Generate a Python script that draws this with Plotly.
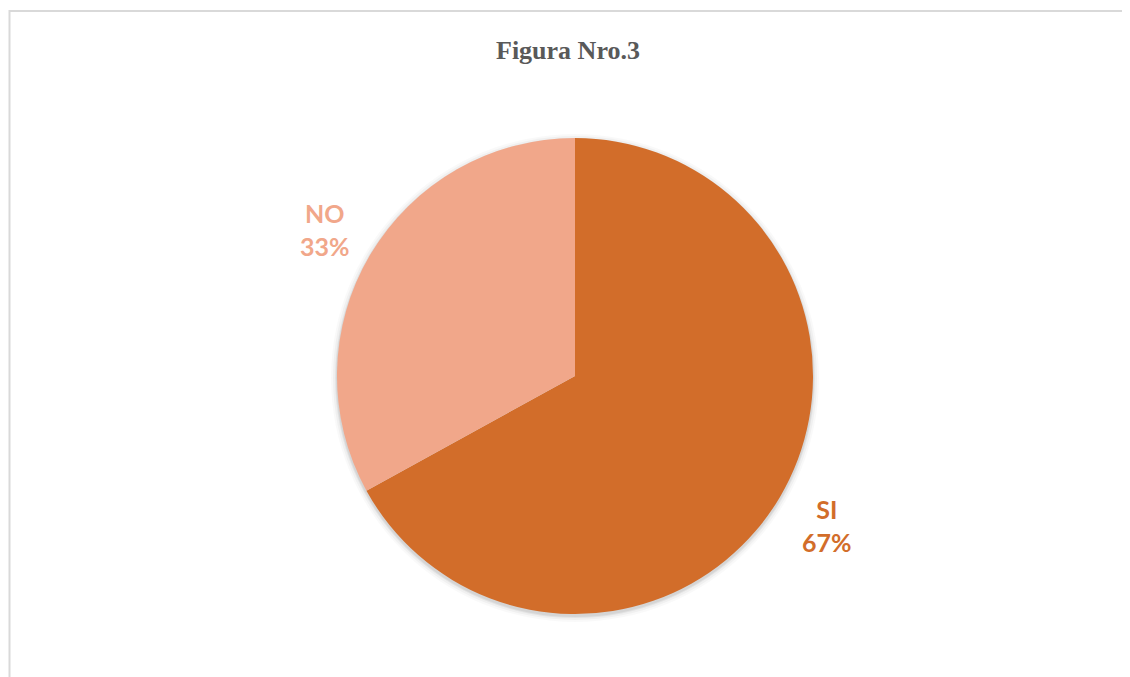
import plotly.graph_objects as go

# Data
categories = ["SI", "NO"]
values = [67, 33]
colors = ["#D26D2A", "#F1A78A"]
title_text = "Figura Nro.3"

W, H = 1130, 677
OFF = 8  # page body margin in the browser
ML, MR, MT, MB = 12, 8, 130, 71
PW, PH = W - ML - MR, H - MT - MB


def px_x(sx):
    return (sx - OFF - ML) / PW


def px_y(sy):
    return (H - MB - (sy - OFF)) / PH


total = sum(values)
labels_text = [f"{c}<br>{round(v / total * 100)}%" for c, v in zip(categories, values)]

fig = go.Figure(
    go.Pie(
        labels=categories,
        values=values,
        sort=False,
        direction="clockwise",
        rotation=0,
        marker=dict(colors=colors, line=dict(width=0)),
        textinfo="none",
        hoverinfo="label+percent",
        showlegend=False,
        domain=dict(x=[0, 1], y=[0, 1]),
    )
)

# soft shadow around pie
cx, cy, r = 575, 377, 238
for k, a in [(6, 0.025), (4, 0.035), (2, 0.05), (1, 0.06)]:
    fig.add_shape(
        type="circle",
        xref="paper", yref="paper",
        x0=px_x(cx - r - k), x1=px_x(cx + r + k),
        y0=px_y(cy + r + k + 1), y1=px_y(cy - r - k + 1),
        fillcolor=f"rgba(0,0,0,{a})",
        line=dict(width=0),
        layer="below",
    )

# chart border
fig.add_shape(
    type="rect", xref="paper", yref="paper",
    x0=px_x(9.5), x1=px_x(1145), y0=px_y(700), y1=px_y(11),
    line=dict(color="#D9D9D9", width=2),
    fillcolor="rgba(0,0,0,0)",
    layer="below",
)

# labels
label_pos = [(827, 525), (325, 229)]
for txt, col, (lx, ly) in zip(labels_text, colors, label_pos):
    fig.add_annotation(
        x=px_x(lx), y=px_y(ly), xref="paper", yref="paper",
        text=f"<b>{txt}</b>", showarrow=False,
        font=dict(family="Lato, Open Sans, sans-serif", size=25, color=col),
        align="center", xanchor="center", yanchor="middle",
    )

fig.update_layout(
    width=W, height=H,
    margin=dict(l=ML, r=MR, t=MT, b=MB),
    paper_bgcolor="white",
    plot_bgcolor="white",
    title=dict(
        text=f"<b>{title_text}</b>",
        x=(568 - OFF) / W, xanchor="center",
        y=1 - (50 - OFF) / H, yanchor="middle",
        font=dict(family="Liberation Serif, Times New Roman, serif", size=26, color="#595959"),
    ),
)

fig.write_html("out.html")
